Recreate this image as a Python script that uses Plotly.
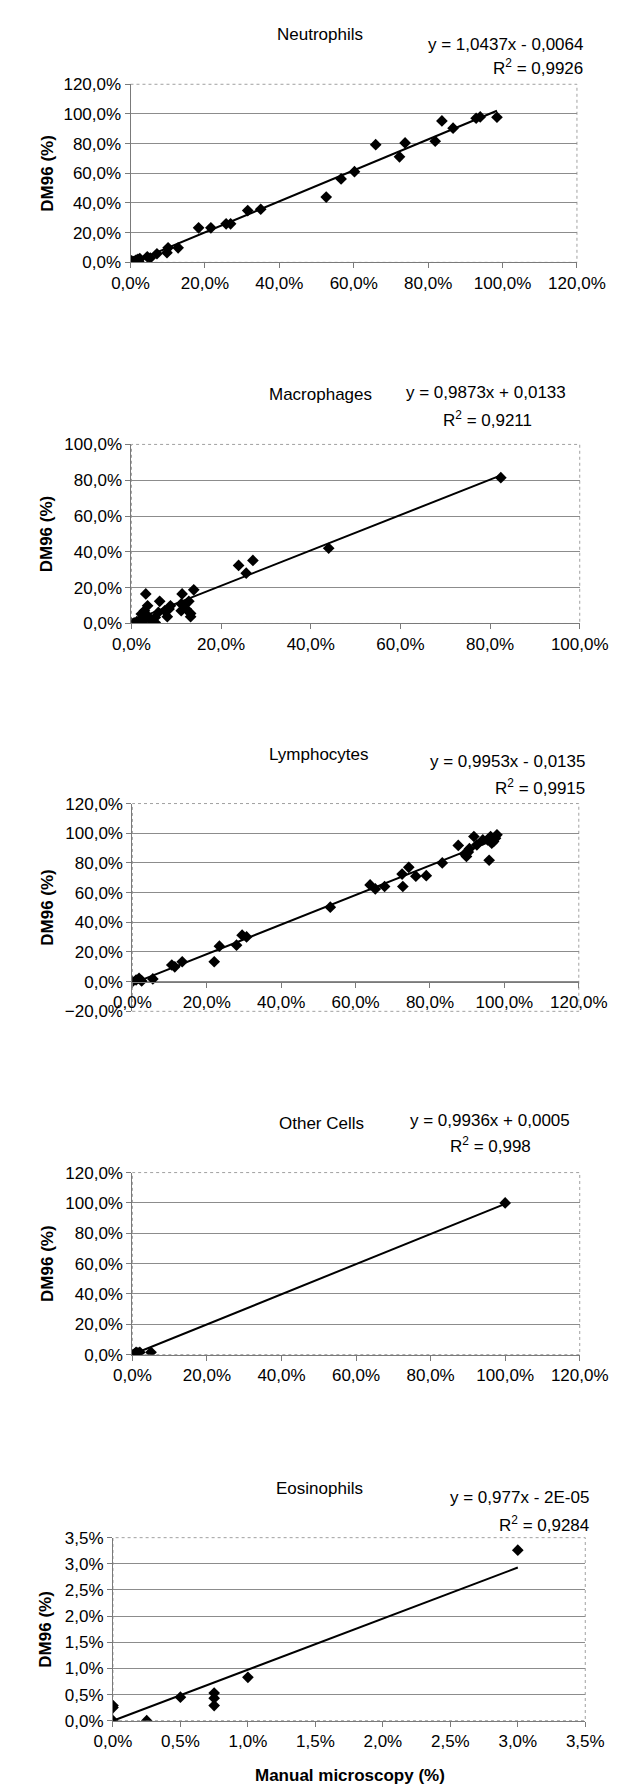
import plotly.graph_objects as go

W, H = 634, 1787
FONT = "Liberation Sans, Arial, sans-serif"
FS = 17

# ---------------- data (values in %) ----------------
titles = ["Neutrophils", "Macrophages", "Lymphocytes", "Other Cells", "Eosinophils"]
equations = ["y = 1,0437x - 0,0064", "y = 0,9873x + 0,0133", "y = 0,9953x - 0,0135",
             "y = 0,9936x + 0,0005", "y = 0,977x - 2E-05"]
r2_labels = ["R<sup>2</sup> = 0,9926", "R<sup>2</sup> = 0,9211", "R<sup>2</sup> = 0,9915",
             "R<sup>2</sup> = 0,998", "R<sup>2</sup> = 0,9284"]
slopes = [1.0437, 0.9873, 0.9953, 0.9936, 0.977]
intercepts = [-0.0064, 0.0133, -0.0135, 0.0005, -0.00002]

neut_x = [0, 0.3, 0.8, 1.2, 1.5, 2.0, 2.2, 2.5, 4.5, 5.3, 7.1, 9.8, 10.1, 12.8, 18.3, 21.6,
          25.7, 26.9, 31.5, 35.0, 52.6, 56.6, 60.2, 65.9, 72.3, 73.8, 81.9, 83.7, 86.7, 92.9, 94.0, 98.5]
neut_y = [0, 1.0, 0.5, 0.9, 1.5, 2.0, 0.8, 2.5, 3.8, 2.9, 5.8, 6.5, 9.8, 9.8, 23.3, 23.3,
          26.0, 26.0, 34.9, 35.8, 44.0, 56.2, 61.1, 79.3, 71.1, 80.5, 81.6, 95.3, 90.4, 97.1, 98.0, 97.8]

macro_x = [0, 0.6, 1.2, 1.9, 2.2, 2.6, 2.9, 3.2, 3.6, 3.6, 4.6, 5.3, 5.3, 6.0, 6.3, 7.4, 8.0, 8.4,
           8.7, 11.1, 11.1, 11.3, 12.2, 12.8, 13.2, 13.2, 13.9, 23.9, 25.6, 27.1, 44.0, 82.4]
macro_y = [0.2, 0.3, 1.1, 2.0, 5.3, 1.1, 7.1, 16.5, 9.9, 4.3, 1.1, 3.4, 0.5, 6.2, 12.4, 7.1, 3.8, 8.1,
           9.9, 10.9, 7.1, 16.5, 8.1, 12.4, 5.6, 3.8, 18.8, 32.4, 28.1, 35.2, 42.0, 81.4]

lymph_x = [0, 1.0, 1.8, 2.5, 5.5, 10.6, 11.4, 13.4, 22.0, 23.4, 28.0, 29.5, 30.7, 53.2, 63.9, 65.3,
           67.8, 72.5, 72.7, 74.3, 76.2, 79.0, 83.3, 87.6, 89.3, 89.8, 90.3, 90.6, 91.8, 92.6, 94.2,
           95.5, 95.9, 96.3, 96.6, 97.1, 97.6, 98.0]
lymph_y = [0, 1.1, 2.2, 0.5, 1.8, 11.2, 10.0, 13.4, 13.4, 23.9, 24.6, 31.3, 30.1, 50.2, 65.2, 62.5,
           64.1, 72.5, 64.1, 77.0, 71.0, 71.4, 80.0, 91.8, 86.0, 84.4, 87.3, 89.6, 97.8, 92.2, 95.5,
           95.5, 81.8, 97.8, 93.3, 94.5, 96.7, 98.9]

other_x = [0, 0.3, 0.6, 1.0, 1.5, 2.0, 5.0, 100.0]
other_y = [0, 0.0, 0.5, 1.5, 1.1, 1.5, 1.5, 100.0]

eos_x = [0, 0, 0, 0.25, 0.5, 0.75, 0.75, 0.75, 1.0, 3.0]
eos_y = [0, 0.25, 0.29, 0, 0.45, 0.53, 0.43, 0.29, 0.83, 3.26]

xs_all = [neut_x, macro_x, lymph_x, other_x, eos_x]
ys_all = [neut_y, macro_y, lymph_y, other_y, eos_y]
x_ranges = [[0, 120], [0, 100], [0, 120], [0, 120], [0, 3.5]]
y_ranges = [[0, 120], [0, 100], [-20, 120], [0, 120], [0, 3.5]]
dticks = [20, 20, 20, 20, 0.5]

# ---------------- layout geometry (pixels) ----------------
plot_px = [  # left, right, top, bottom
    (112, 595, 68, 248),
    (113, 598, 432, 613),
    (114, 597, 795, 1005),
    (114, 598, 1168, 1352),
    (93, 604, 1537, 1722),
]
title_px = [(317, 18), (317, 382), (316, 745), (319, 1118), (316, 1487)]
eq_px = [(604, 28, "right"), (497, 380, "center"), (606, 753, "right"), (501, 1115, "center"), (610, 1496, "right")]
r2_px = [(604, 51, "right"), (498, 406, "center"), (606, 778, "right"), (501, 1140, "center"), (610, 1523, "right")]

def px2x(p):
    return p / W

def px2y(p):
    return 1 - p / H

fig = go.Figure()
annotations = []
shapes = []
layout = {}

for i in range(5):
    n = "" if i == 0 else str(i + 1)
    xa, ya = "x" + n, "y" + n
    l, r, t, b = plot_px[i]
    xdom = [px2x(l), px2x(r)]
    ydom = [px2y(b), px2y(t)]
    y0, y1 = y_ranges[i]
    zero_frac = (0 - y0) / (y1 - y0)
    x_pos = ydom[0] + (ydom[1] - ydom[0]) * zero_frac

    xax = dict(
        domain=xdom, range=x_ranges[i], dtick=dticks[i], tick0=0,
        showgrid=False, zeroline=False, showline=True, linecolor="#7a7a7a", linewidth=1,
        ticks="outside", ticklen=5, tickcolor="#7a7a7a", tickformat=".1f", ticksuffix="%",
        tickfont=dict(family=FONT, size=FS, color="black"), fixedrange=True,
    )
    if zero_frac > 0:
        xax.update(anchor="free", position=x_pos)
    else:
        xax.update(anchor=ya)
    layout["xaxis" + n] = xax
    layout["yaxis" + n] = dict(
        domain=ydom, range=y_ranges[i], dtick=dticks[i], tick0=0, anchor=xa,
        showgrid=True, gridcolor="#8c8c8c", gridwidth=1, zeroline=False,
        showline=True, linecolor="#7a7a7a", linewidth=1,
        ticks="outside", ticklen=5, tickcolor="#7a7a7a", tickformat=".1f", ticksuffix="%",
        tickfont=dict(family=FONT, size=FS, color="black"), fixedrange=True,
    )

    shapes.append(dict(type="rect", xref=xa + " domain", yref=ya + " domain",
                       x0=0, x1=1, y0=0, y1=1, line=dict(color="#a0a0a0", width=1, dash="dot"),
                       layer="below"))

    xs, ys = xs_all[i], ys_all[i]
    fig.add_trace(go.Scatter(x=xs, y=ys, mode="markers", xaxis=xa, yaxis=ya,
                             marker=dict(symbol="diamond", size=9, color="black"),
                             showlegend=False, hoverinfo="skip"))
    tx = [min(xs), max(xs)]
    ty = [slopes[i] * v + intercepts[i] * 100 for v in tx]
    fig.add_trace(go.Scatter(x=tx, y=ty, mode="lines", xaxis=xa, yaxis=ya,
                             line=dict(color="black", width=2),
                             showlegend=False, hoverinfo="skip"))

    tx_, ty_ = title_px[i]
    annotations.append(dict(text=titles[i], x=px2x(tx_), y=px2y(ty_), xref="paper", yref="paper",
                            showarrow=False, xanchor="center", yanchor="middle",
                            font=dict(family=FONT, size=FS, color="black")))
    ex_, ey_, ean = eq_px[i]
    annotations.append(dict(text=equations[i], x=px2x(ex_), y=px2y(ey_), xref="paper", yref="paper",
                            showarrow=False, xanchor=ean, yanchor="middle",
                            font=dict(family=FONT, size=FS, color="black")))
    rx_, ry_, ran = r2_px[i]
    annotations.append(dict(text=r2_labels[i], x=px2x(rx_), y=px2y(ry_), xref="paper", yref="paper",
                            showarrow=False, xanchor=ran, yanchor="middle",
                            font=dict(family=FONT, size=FS, color="black")))
    annotations.append(dict(text="<b>DM96 (%)</b>", x=px2x(22 if i < 4 else 20), y=px2y((t + b) / 2),
                            xref="paper", yref="paper", showarrow=False, textangle=-90,
                            xanchor="center", yanchor="middle",
                            font=dict(family=FONT, size=FS, color="black")))

annotations.append(dict(text="<b>Manual microscopy (%)</b>", x=px2x(349), y=px2y(1777),
                        xref="paper", yref="paper", showarrow=False, xanchor="center", yanchor="middle",
                        font=dict(family=FONT, size=FS, color="black")))

fig.update_layout(
    width=W, height=H, autosize=False,
    margin=dict(l=0, r=0, t=0, b=0),
    paper_bgcolor="white", plot_bgcolor="white",
    separators=", ",
    annotations=annotations, shapes=shapes,
    **layout,
)

fig.write_html("out.html", config={"displayModeBar": False})
